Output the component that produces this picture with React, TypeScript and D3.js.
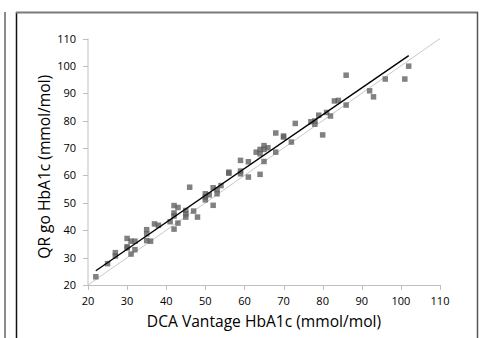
import React from 'react';
import { scaleLinear, line } from 'd3';

// DCA Vantage (x) vs QR go (y), mmol/mol
const dcaValues = [
    22, 25, 27, 27, 30, 30, 31, 32, 30, 32, 31, 35, 35, 35, 36, 37, 38,
    42, 43, 42, 42, 41, 43, 42, 45, 45, 45, 46, 47, 48, 50, 50, 50, 51,
    52, 52, 53, 53, 54, 56, 56, 59, 59, 59, 61, 61, 63, 64, 64, 64, 65,
    65, 65, 66, 68, 68, 70, 70, 72, 73, 77, 78, 78, 79, 80, 81, 82, 83,
    84, 86, 86, 92, 93, 96, 101, 102,
];
const qrValues = [
    23, 27.8, 31.8, 30.6, 37, 33.5, 36, 36, 34, 32.9, 31.3, 40.2, 38.7, 36.2, 36, 42.3, 41.8,
    49, 48.3, 46.3, 45.2, 43.1, 42.6, 40.4, 47.2, 46, 44.8, 55.7, 47, 44.8, 53.3, 52.1, 51.1, 52.9,
    55.5, 49.1, 54.8, 53.3, 56.3, 61.2, 60.8, 65.5, 61.6, 60.6, 65, 59.4, 68.5, 69.5, 67.9, 60.4, 70.9,
    69.5, 65.1, 70.1, 75.5, 68.5, 74.4, 74, 72.2, 79, 79.6, 78.7, 79.9, 82, 74.8, 83, 81.7, 87.2,
    87.4, 96.6, 85.7, 90.9, 88.7, 95.2, 95.2, 99.9,
];
const tickValues = [20, 30, 40, 50, 60, 70, 80, 90, 100, 110];
const fitSlope = 0.982;
const fitIntercept = 3.6;
const fitRange = [22, 102];

const width = 485;
const height = 338;
const left = 88;
const right = 440;
const top = 38.5;
const bottom = 285;

export default function App() {
    const x = scaleLinear().domain([20, 110]).range([left, right]);
    const y = scaleLinear().domain([20, 110]).range([bottom, top]);
    const path = line<number[]>()
        .x((d) => x(d[0]))
        .y((d) => y(d[1]));

    const fitPts = fitRange.map((v) => [v, fitSlope * v + fitIntercept]);
    const idPts = [[20, 20], [110, 110]];
    const points = dcaValues.map((v, i) => [v, qrValues[i]]);
    const font = "'Open Sans', 'Liberation Sans', sans-serif";
    const size = 5.5;

    return (
        <svg
            width={width}
            height={height}
            style={{ position: 'absolute', left: 0, top: 0, background: '#fff' }}
            fontFamily={font}
        >
            {/* panel frames */}
            <line x1={5} y1={12} x2={5} y2={height} stroke="#8a8a8a" strokeWidth={2} />
            <line x1={16.5} y1={12} x2={16.5} y2={height} stroke="#111" strokeWidth={1.5} />
            <line x1={16} y1={12.5} x2={478} y2={12.5} stroke="#7a7a7a" strokeWidth={2} />
            <line x1={477.5} y1={12} x2={477.5} y2={height} stroke="#555" strokeWidth={1.5} />

            {/* axes */}
            <line x1={left} y1={top} x2={left} y2={bottom} stroke="#bfbfbf" />
            <line x1={left} y1={bottom + 0.5} x2={right} y2={bottom + 0.5} stroke="#bfbfbf" />
            {tickValues.map((t) => (
                <g key={'y' + t}>
                    <line x1={left - 5} x2={left} y1={Math.round(y(t)) + 0.5} y2={Math.round(y(t)) + 0.5} stroke="#bfbfbf" />
                    <text x={left - 12} y={y(t) + 4} textAnchor="end" fontSize={11} fill="#000">
                        {t}
                    </text>
                </g>
            ))}
            {tickValues.map((t) => (
                <g key={'x' + t}>
                    <line x1={Math.round(x(t)) + 0.5} x2={Math.round(x(t)) + 0.5} y1={bottom} y2={bottom + 5} stroke="#bfbfbf" />
                    <text x={x(t)} y={bottom + 20} textAnchor="middle" fontSize={11} fill="#000">
                        {t}
                    </text>
                </g>
            ))}

            {/* identity line */}
            <path d={path(idPts) || ''} stroke="#c8c8c8" strokeWidth={1} fill="none" />

            {/* data */}
            {points.map((p, i) => (
                <rect
                    key={i}
                    x={x(p[0]) - size / 2}
                    y={y(p[1]) - size / 2}
                    width={size}
                    height={size}
                    fill="#5e5e5e"
                    fillOpacity={0.78}
                />
            ))}

            {/* regression line */}
            <path d={path(fitPts) || ''} stroke="#000" strokeWidth={1.4} fill="none" />

            {/* titles */}
            <text x={(left + right) / 2} y={327} textAnchor="middle" fontSize={15.6} fill="#000">
                DCA Vantage HbA1c (mmol/mol)
            </text>
            <text
                transform={`translate(50, ${(top + bottom) / 2 + 5}) rotate(-90)`}
                textAnchor="middle"
                fontSize={15.6}
                fill="#000"
            >
                QR go HbA1c (mmol/mol)
            </text>
        </svg>
    );
}
